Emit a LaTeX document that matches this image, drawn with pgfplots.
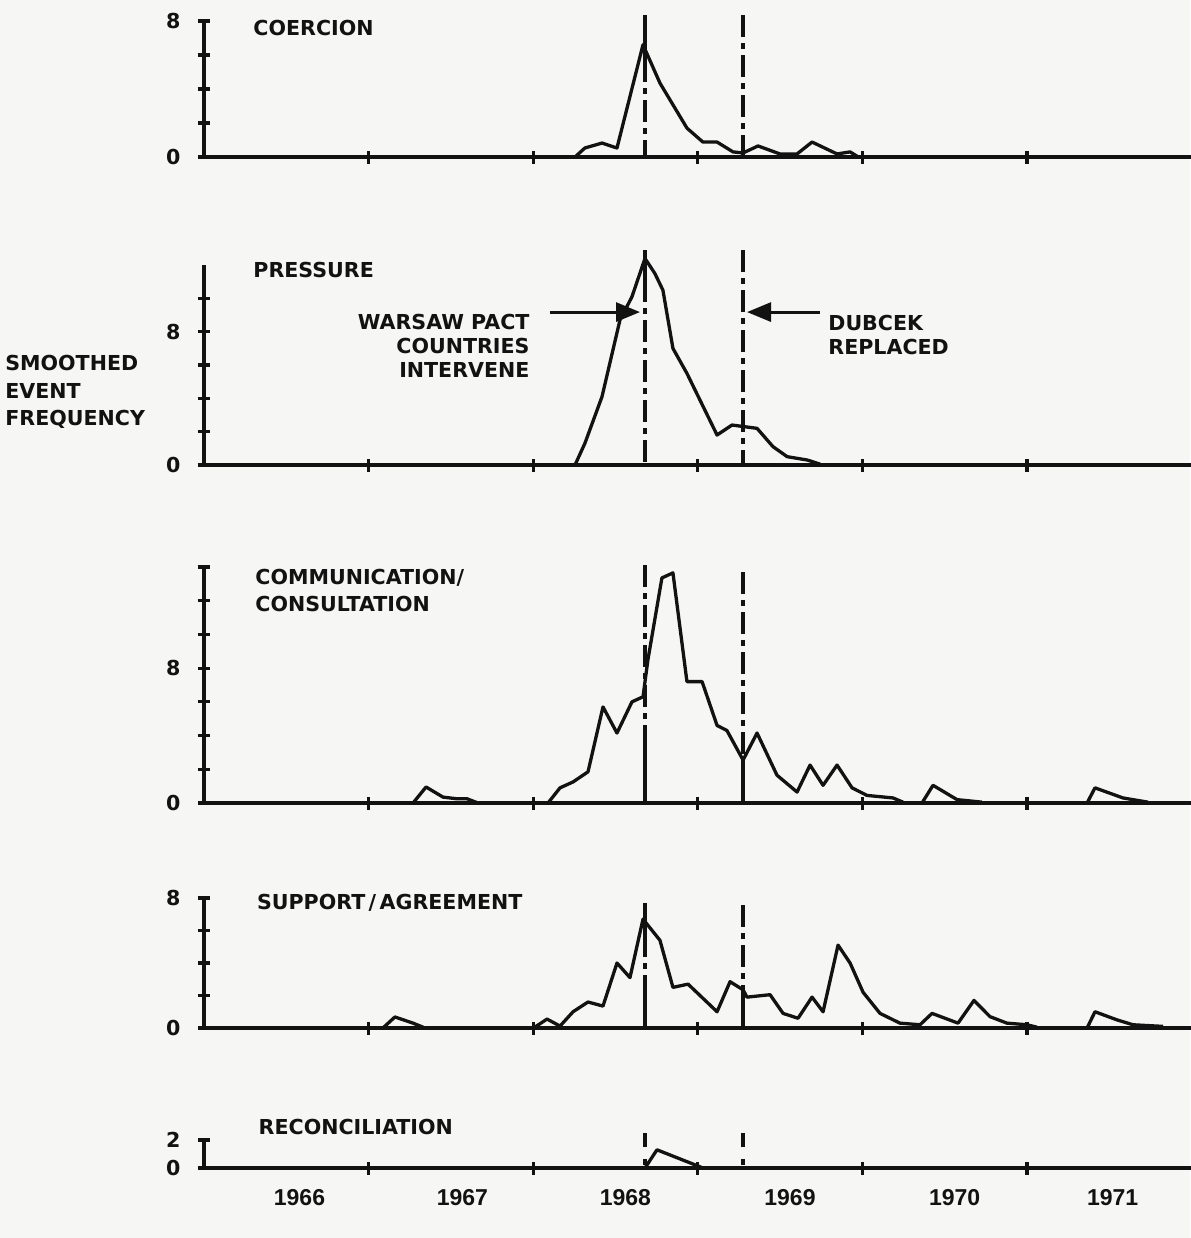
\documentclass[border=0pt]{standalone}
\usepackage{fontspec}
\setmainfont{DejaVu Sans}
\newfontfamily\yrfont{Liberation Sans}
\usepackage{pgfplots}
\pgfplotsset{compat=1.18}
\usetikzlibrary{arrows.meta}

\definecolor{paper}{RGB}{246,246,244}
\definecolor{ink}{RGB}{18,18,18}

\newcommand{\lab}{\fontsize{10.3}{13.5}\selectfont\bfseries}

\tikzset{note/.style={inner xsep=0pt}}

\pgfplotsset{
  panel/.style={
    x=82.3pt, xmin=1966, xmax=1972, ymin=0,
    anchor=south west, clip=false,
    axis x line=bottom, axis y line=left,
    axis line style={-, line width=1.7pt, ink},
    xtick={1967,1968,1969,1970,1971},
    xticklabels={{},{},{},{},{}},
    tick align=center, major tick length=6.5pt,
    major tick style={line width=1.6pt, ink},
    /pgf/number format/assume math mode=true,
    every tick label/.append style={font=\lab, text=ink},
    yticklabel style={xshift=-5pt},
  },
  curve/.style={ink, line width=1.65pt, line join=round},
  event/.style={ink, line width=1.7pt, dash pattern=on 11pt off 3pt on 3pt off 3pt},
  eventsolid/.style={ink, line width=1.7pt},
}

\begin{document}
\begin{tikzpicture}[font=\lab, text=ink]
\fill[paper, use as bounding box] (0,0) rectangle (595pt,-619pt);

% COERCION
\begin{axis}[panel, at={(102pt,-78.5pt)}, y=8.5pt, ymax=8,
  ytick={0,2,4,6,8}, yticklabels={0,{},{},{},8}]
\addplot[curve] coordinates {(1968.254,0) (1968.314,0.53) (1968.418,0.82)
  (1968.509,0.53) (1968.667,6.6) (1968.770,4.35) (1968.934,1.7) (1969.031,0.88)
  (1969.117,0.88) (1969.214,0.3) (1969.275,0.24) (1969.366,0.65) (1969.499,0.18)
  (1969.603,0.18) (1969.694,0.88) (1969.846,0.18) (1969.925,0.3) (1969.967,0.05)};
\addplot[eventsolid] coordinates {(1968.679,8.35) (1968.679,5.7)};
\addplot[event] coordinates {(1968.679,5.7) (1968.679,0)};
\addplot[event] coordinates {(1969.275,8.35) (1969.275,0)};
\node[note, anchor=west] at (axis cs:1966.298,7.6) {COERCION};
\end{axis}

% PRESSURE
\begin{axis}[panel, at={(102pt,-232.5pt)}, y=8.33pt, ymax=12,
  ytick={0,2,4,6,8,10}, yticklabels={0,{},{},{},8,{}}]
\addplot[curve] coordinates {(1968.254,0) (1968.314,1.3) (1968.418,4.1)
  (1968.527,8.7) (1968.600,10.1) (1968.679,12.4) (1968.739,11.5) (1968.788,10.5)
  (1968.849,7.0) (1968.934,5.5) (1969.117,1.8) (1969.208,2.4) (1969.360,2.2)
  (1969.457,1.1) (1969.543,0.5) (1969.665,0.3) (1969.743,0.05)};
\addplot[eventsolid] coordinates {(1968.679,12.9) (1968.679,11.1)};
\addplot[event] coordinates {(1968.679,11.1) (1968.679,0)};
\addplot[event] coordinates {(1969.275,12.9) (1969.275,0)};
\node[note, anchor=west] at (axis cs:1966.298,11.7) {PRESSURE};
\node[note, anchor=west, align=left, font=\fontsize{10.3}{13.75}\selectfont\bfseries]
  at (axis cs:1964.791,4.38) {SMOOTHED\\EVENT\\FREQUENCY};
\node[note, anchor=east, align=right, font=\fontsize{10.3}{12}\selectfont\bfseries]
  at (axis cs:1967.98,7.14) {WARSAW PACT\\COUNTRIES\\INTERVENE};
\node[note, anchor=west, align=left, font=\fontsize{10.3}{12}\selectfont\bfseries]
  at (axis cs:1969.791,7.83) {DUBCEK\\REPLACED};
\draw[ink, line width=1.5pt, -{Triangle[length=12pt,width=9.5pt]}]
  (axis cs:1968.102,9.18) -- (axis cs:1968.649,9.18);
\draw[ink, line width=1.5pt, -{Triangle[length=12pt,width=9.5pt]}]
  (axis cs:1969.742,9.18) -- (axis cs:1969.299,9.18);
\end{axis}

% COMMUNICATION / CONSULTATION
\begin{axis}[panel, at={(102pt,-401.5pt)}, y=8.43pt, ymax=14,
  ytick={0,2,4,6,8,10,12,14}, yticklabels={0,{},{},{},8,{},{},{}}]
\addplot[curve] coordinates {(1967.270,0) (1967.349,0.95) (1967.452,0.35)
  (1967.537,0.25) (1967.598,0.25) (1967.665,0)};
\addplot[curve] coordinates {(1968.090,0) (1968.163,0.9) (1968.242,1.25)
  (1968.333,1.85) (1968.424,5.7) (1968.509,4.15) (1968.600,6.0) (1968.667,6.3)
  (1968.697,8.5) (1968.782,13.35) (1968.849,13.65) (1968.934,7.2) (1969.026,7.2)
  (1969.117,4.6) (1969.177,4.3) (1969.275,2.55) (1969.360,4.15) (1969.481,1.65)
  (1969.603,0.65) (1969.682,2.25) (1969.761,1.05) (1969.846,2.25) (1969.937,0.9)
  (1970.028,0.45) (1970.186,0.3) (1970.247,0.05)};
\addplot[curve] coordinates {(1970.362,0) (1970.429,1.05) (1970.575,0.2) (1970.727,0.05)};
\addplot[curve] coordinates {(1971.365,0) (1971.413,0.9) (1971.583,0.3) (1971.735,0.05)};
\addplot[event] coordinates {(1968.679,14.1) (1968.679,3.45)};
\addplot[eventsolid] coordinates {(1968.679,3.45) (1968.679,0)};
\addplot[event] coordinates {(1969.275,13.7) (1969.275,2.7)};
\addplot[eventsolid] coordinates {(1969.275,2.7) (1969.275,0)};
\node[note, anchor=west, align=left] at (axis cs:1966.31,12.6) {COMMUNICATION/\\CONSULTATION};
\end{axis}

% SUPPORT / AGREEMENT
\begin{axis}[panel, at={(102pt,-514pt)}, y=8.125pt, ymax=8,
  ytick={0,2,4,6,8}, yticklabels={0,{},{},{},8}]
\addplot[curve] coordinates {(1967.087,0) (1967.160,0.68) (1967.270,0.3) (1967.343,0)};
\addplot[curve] coordinates {(1968.011,0.06) (1968.084,0.55) (1968.163,0.12)
  (1968.242,1.0) (1968.333,1.6) (1968.424,1.35) (1968.509,4.0) (1968.588,3.1)
  (1968.667,6.7) (1968.770,5.4) (1968.849,2.5) (1968.941,2.7) (1969.117,1.0)
  (1969.196,2.85) (1969.275,2.35) (1969.299,1.9) (1969.439,2.05) (1969.518,0.9)
  (1969.609,0.6) (1969.694,1.9) (1969.761,1.0) (1969.852,5.1) (1969.925,4.0)
  (1970.004,2.2) (1970.107,0.9) (1970.228,0.3) (1970.350,0.2) (1970.423,0.9)
  (1970.581,0.3) (1970.678,1.7) (1970.775,0.7) (1970.878,0.3) (1971.000,0.2)
  (1971.061,0.05)};
\addplot[curve] coordinates {(1971.365,0) (1971.413,1.0) (1971.547,0.5)
  (1971.644,0.2) (1971.826,0.1)};
\addplot[eventsolid] coordinates {(1968.679,7.7) (1968.679,5.7)};
\addplot[event] coordinates {(1968.679,5.7) (1968.679,3.1)};
\addplot[eventsolid] coordinates {(1968.679,3.1) (1968.679,0)};
\addplot[event] coordinates {(1969.275,7.55) (1969.275,2.5)};
\addplot[eventsolid] coordinates {(1969.275,2.5) (1969.275,0)};
\node[note, anchor=west] at (axis cs:1966.32,7.7) {SUPPORT\,/\,AGREEMENT};
\end{axis}

% RECONCILIATION
\begin{axis}[panel, at={(102pt,-584pt)}, y=7pt, ymax=2,
  ytick={0,2}, yticklabels={0,2},
  extra x ticks={1966.58,1967.57,1968.56,1969.56,1970.56,1971.52},
  extra x tick labels={1966,1967,1968,1969,1970,1971},
  extra x tick style={major tick length=0pt,
    tick label style={font=\yrfont\fontsize{11.5}{13}\selectfont\bfseries, yshift=-7pt}}]
\addplot[curve] coordinates {(1968.679,0) (1968.752,1.3) (1969.032,0)};
\addplot[ink, line width=1.7pt, dash pattern=on 7pt off 6pt on 3pt off 10pt]
  coordinates {(1968.679,2.5) (1968.679,0)};
\addplot[ink, line width=1.7pt, dash pattern=on 7pt off 6pt on 3pt off 10pt]
  coordinates {(1969.275,2.5) (1969.275,0)};
\node[note, anchor=west] at (axis cs:1966.33,2.93) {RECONCILIATION};
\end{axis}
\end{tikzpicture}
\end{document}
